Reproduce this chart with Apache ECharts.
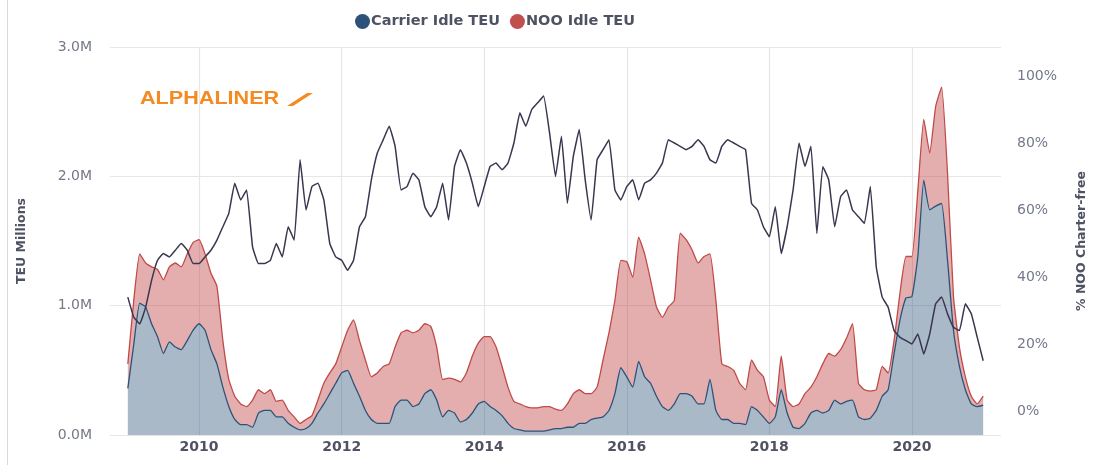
<!DOCTYPE html>
<html><head><meta charset="utf-8">
<script src="https://cdn.jsdelivr.net/npm/echarts@6/dist/echarts.min.js"></script>
<style>html,body{margin:0;padding:0;background:#fff}#c{width:1109px;height:465px}</style>
</head><body><div id="c"></div>
<script>
// Monthly observations, Jan 2009 .. Jan 2021 (values in million TEU / share)
const startYear = 2009;
const carrierIdle = [
  0.36,0.70,1.02,0.99,0.86,0.76,0.63,0.72,0.68,0.66,0.73,0.81,
  0.86,0.81,0.66,0.55,0.37,0.22,0.12,0.08,0.08,0.06,0.17,0.19,
  0.19,0.14,0.14,0.09,0.06,0.04,0.05,0.09,0.17,0.24,0.32,0.40,
  0.48,0.50,0.40,0.30,0.19,0.12,0.09,0.09,0.09,0.22,0.27,0.27,
  0.22,0.24,0.32,0.35,0.27,0.14,0.19,0.17,0.10,0.12,0.17,0.24,
  0.26,0.22,0.19,0.15,0.09,0.05,0.04,0.03,0.03,0.03,0.03,0.04,
  0.05,0.05,0.06,0.06,0.09,0.09,0.12,0.13,0.14,0.19,0.32,0.52,
  0.45,0.37,0.57,0.45,0.40,0.30,0.22,0.19,0.24,0.32,0.32,0.30,
  0.24,0.24,0.43,0.19,0.12,0.12,0.09,0.09,0.08,0.22,0.19,0.14,
  0.09,0.14,0.35,0.17,0.06,0.05,0.09,0.17,0.19,0.17,0.19,0.27,
  0.24,0.26,0.27,0.14,0.12,0.13,0.19,0.30,0.35,0.63,0.89,1.06,
  1.07,1.38,1.97,1.74,1.77,1.79,1.35,0.81,0.53,0.35,0.24,0.22,
  0.23
];
const nooIdle = [
  0.19,0.34,0.38,0.34,0.44,0.52,0.57,0.58,0.65,0.64,0.67,0.68,
  0.65,0.59,0.59,0.60,0.36,0.21,0.18,0.16,0.14,0.21,0.18,0.13,
  0.16,0.12,0.13,0.10,0.08,0.05,0.07,0.06,0.10,0.16,0.16,0.15,
  0.20,0.31,0.49,0.43,0.39,0.33,0.39,0.44,0.46,0.46,0.52,0.54,
  0.57,0.57,0.54,0.49,0.41,0.29,0.25,0.26,0.31,0.36,0.44,0.47,
  0.50,0.54,0.49,0.38,0.28,0.21,0.20,0.19,0.18,0.18,0.19,0.18,
  0.15,0.14,0.18,0.26,0.26,0.23,0.20,0.24,0.44,0.60,0.72,0.83,
  0.89,0.85,0.96,0.95,0.80,0.69,0.69,0.80,0.80,1.24,1.19,1.13,
  1.09,1.14,0.97,0.85,0.43,0.41,0.41,0.31,0.27,0.36,0.31,0.31,
  0.18,0.08,0.26,0.10,0.16,0.19,0.23,0.20,0.26,0.38,0.44,0.34,
  0.42,0.49,0.59,0.26,0.23,0.21,0.16,0.23,0.13,0.10,0.21,0.32,
  0.31,0.51,0.47,0.44,0.77,0.90,0.67,0.26,0.15,0.10,0.06,0.02,
  0.07
];
const nooCharterFree = [
  0.34,0.28,0.26,0.31,0.39,0.45,0.47,0.46,0.48,0.50,0.48,0.44,
  0.44,0.46,0.48,0.51,0.55,0.59,0.68,0.63,0.66,0.49,0.44,0.44,
  0.45,0.50,0.46,0.55,0.51,0.75,0.60,0.67,0.68,0.63,0.50,0.46,
  0.45,0.42,0.45,0.55,0.58,0.69,0.77,0.81,0.85,0.79,0.66,0.67,
  0.71,0.69,0.61,0.58,0.61,0.68,0.57,0.73,0.78,0.74,0.68,0.61,
  0.67,0.73,0.74,0.72,0.74,0.80,0.89,0.85,0.90,0.92,0.94,0.83,
  0.70,0.82,0.62,0.76,0.84,0.69,0.57,0.75,0.78,0.81,0.66,0.63,
  0.67,0.69,0.63,0.68,0.69,0.71,0.74,0.81,0.80,0.79,0.78,0.79,
  0.81,0.79,0.75,0.74,0.79,0.81,0.80,0.79,0.78,0.62,0.60,0.55,
  0.52,0.61,0.47,0.55,0.66,0.80,0.73,0.79,0.53,0.73,0.69,0.55,
  0.64,0.66,0.60,0.58,0.56,0.67,0.43,0.34,0.31,0.24,0.22,0.21,
  0.20,0.23,0.17,0.23,0.32,0.34,0.29,0.25,0.24,0.32,0.29,0.22,
  0.15
];
const xTickYears = ['2010', '2012', '2014', '2016', '2018', '2020'];
const rightTicks = [0, 0.2, 0.4, 0.6, 0.8, 1.0];
const padBefore = 3, padAfter = 3;   // axis runs Oct 2008 .. Apr 2021

// month categories
const months = [];
for (let i = -padBefore; i < carrierIdle.length + padAfter; i++) {
  const y = startYear + Math.floor(i / 12), m = ((i % 12) + 12) % 12 + 1;
  months.push(y + '-' + (m < 10 ? '0' + m : m));
}
const pad = arr => Array(padBefore).fill(null).concat(arr, Array(padAfter).fill(null));
const isTick = (idx, val) => val.slice(5) === '01' && xTickYears.indexOf(val.slice(0, 4)) >= 0;

const chart = echarts.init(document.getElementById('c'));
const font = 'DejaVu Sans';
const gray = '#747989';
const dark = '#4f5262';
chart.setOption({
  animation: false,
  backgroundColor: '#fff',
  textStyle: { fontFamily: font },
  legend: {
    top: 9, left: 350, itemGap: 10, itemWidth: 15, itemHeight: 15, icon: 'circle',
    data: ['Carrier Idle TEU', 'NOO Idle TEU'],
    textStyle: { color: dark, fontWeight: 'bold', fontSize: 14.5, fontFamily: font, padding: [0,0,0,-4] }
  },
  grid: { left: 110, right: 108, top: 47, bottom: 30 },
  xAxis: {
    type: 'category', boundaryGap: false, data: months,
    axisLine: { show: false },
    axisTick: { show: false, interval: isTick },
    splitLine: { show: true, interval: isTick, lineStyle: { color: '#e6e6e9', width: 1.2 } },
    axisLabel: {
      interval: isTick,
      formatter: v => v.slice(0, 4),
      color: dark, fontWeight: 'bold', fontSize: 14, fontFamily: font, margin: 5
    }
  },
  yAxis: [
    {
      type: 'value', min: 0, max: 3000000, interval: 1000000,
      name: 'TEU Millions', nameLocation: 'middle', nameGap: 82, nameRotate: 90,
      nameTextStyle: { color: dark, fontWeight: 'bold', fontSize: 12.5, fontFamily: font },
      axisLine: { show: false }, axisTick: { show: false },
      axisLabel: { formatter: v => (v / 1e6).toFixed(1) + 'M', color: gray, fontSize: 14, fontFamily: font, margin: 18 },
      splitLine: { lineStyle: { color: '#e6e6e9', width: 1.2 } }
    },
    {
      type: 'value', min: -0.0716, max: 1.0866, position: 'right',
      name: '% NOO Charter-free', nameLocation: 'middle', nameGap: 74, nameRotate: 90,
      nameTextStyle: { color: dark, fontWeight: 'bold', fontSize: 12.5, fontFamily: font },
      axisLine: { show: false }, axisTick: { show: false, customValues: rightTicks },
      axisLabel: { customValues: rightTicks, formatter: v => Math.round(v * 100) + '%', color: gray, fontSize: 14, fontFamily: font, margin: 16 },
      splitLine: { show: false }
    }
  ],
  series: [
    {
      name: 'Carrier Idle TEU', type: 'line', stack: 'idle', symbol: 'none', smooth: 0.15,
      data: pad(carrierIdle.map(v => v * 1e6)),
      itemStyle: { color: '#2d5279' },
      lineStyle: { color: '#2d5279', width: 1.3 },
      areaStyle: { color: 'rgba(40,80,115,0.4)', opacity: 1 },
      z: 3
    },
    {
      name: 'NOO Idle TEU', type: 'line', stack: 'idle', symbol: 'none', smooth: 0.15,
      data: pad(nooIdle.map(v => v * 1e6)),
      itemStyle: { color: '#c0504d' },
      lineStyle: { color: '#bf4a47', width: 1.3 },
      areaStyle: { color: 'rgba(190,62,62,0.42)', opacity: 1 },
      z: 2
    },
    {
      name: '% NOO Charter-free', type: 'line', yAxisIndex: 1, symbol: 'none', smooth: 0.1,
      data: pad(nooCharterFree),
      itemStyle: { color: '#3a3650' },
      lineStyle: { color: '#3a3650', width: 1.5 },
      z: 4
    }
  ],
  graphic: [
    { type: 'line', shape: { x1: 7.5, y1: 0, x2: 7.5, y2: 465 }, style: { stroke: '#d9d9d9', lineWidth: 1 } },
    { type: 'text', x: 140, y: 90, scaleX: 1.2,
      style: { text: 'ALPHALINER', fill: '#f38b22', font: 'bold 18px "Liberation Sans"' } },
    { type: 'polygon', shape: { points: [[287,106],[293,106],[313,93],[307,93]] }, style: { fill: '#f38b22' } }
  ]
});
</script>
</body></html>
